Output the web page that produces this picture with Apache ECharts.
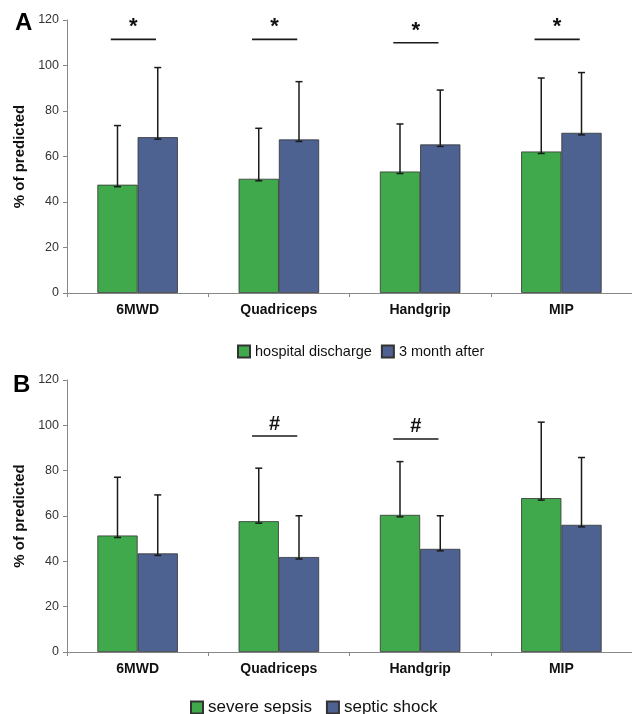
<!DOCTYPE html>
<html>
<head>
<meta charset="utf-8">
<script src="https://cdn.jsdelivr.net/npm/echarts@6/dist/echarts.min.js"></script>
<style>html,body{margin:0;padding:0;background:#fff;}#c{width:632px;height:714px;}</style>
</head>
<body>
<div id="c"></div>
<script>
const categories = ['6MWD', 'Quadriceps', 'Handgrip', 'MIP'];
const yTicks = [0, 20, 40, 60, 80, 100, 120];

// Panel A
const aNames = ['hospital discharge', '3 month after'];
const aDischarge = [47.6, 50.2, 53.4, 62.2];
const aDischargeSD = [73.6, 72.4, 74.3, 94.5];
const a3Month = [68.5, 67.5, 65.3, 70.4];
const a3MonthSD = [99.1, 92.9, 89.2, 96.9];
const aSig = [[0, 111.5, '*'], [1, 111.5, '*'], [2, 110, '*'], [3, 111.5, '*']];

// Panel B
const bNames = ['severe sepsis', 'septic shock'];
const bSevere = [51.4, 57.7, 60.5, 67.9];
const bSevereSD = [77.1, 81.1, 84.0, 101.4];
const bShock = [43.5, 41.9, 45.5, 56.1];
const bShockSD = [69.3, 60.1, 60.1, 85.8];
const bSig = [[1, 95.3, '#'], [2, 94, '#']];

const GREEN = '#3fa94b';
const BLUE = '#4d6290';
const FONT = 'Liberation Sans';
const BARW = 0.285;

function errData(vals, sds) { return vals.map((v, i) => [i, v, sds[i]]); }

function errSeries(name, vals, sds, side, axisIdx) {
  return {
    type: 'custom', name: name + ' SD', xAxisIndex: axisIdx, yAxisIndex: axisIdx,
    silent: true, z: 5,
    data: errData(vals, sds),
    renderItem: function (params, api) {
      const cw = api.size([1, 0])[0];
      const c0 = api.coord([api.value(0), api.value(1)]);
      const c1 = api.coord([api.value(0), api.value(2)]);
      const x = c0[0] + side * cw * BARW / 2;
      const y0 = c0[1] + 2, y1 = c1[1];
      const st = { stroke: '#1a1a1a', lineWidth: 1.5 };
      return { type: 'group', children: [
        { type: 'line', shape: { x1: x, y1: y0, x2: x, y2: y1 }, style: st },
        { type: 'line', shape: { x1: x - 3.5, y1: y1, x2: x + 3.5, y2: y1 }, style: st },
        { type: 'line', shape: { x1: x - 3.5, y1: y0, x2: x + 3.5, y2: y0 }, style: st }
      ]};
    }
  };
}

function sigSeries(data, axisIdx, fontSize, dy) {
  return {
    type: 'custom', xAxisIndex: axisIdx, yAxisIndex: axisIdx, silent: true, z: 6,
    data: data,
    renderItem: function (params, api) {
      const cw = api.size([1, 0])[0];
      const c = api.coord([api.value(0), api.value(1)]);
      const half = cw * 0.16;
      const x = c[0] - cw * 0.03;
      return { type: 'group', children: [
        { type: 'line', shape: { x1: x - half, y1: c[1], x2: x + half, y2: c[1] }, style: { stroke: '#1a1a1a', lineWidth: 1.6 } },
        { type: 'text', style: { text: data[params.dataIndex][2], x: x, y: c[1] - dy, textAlign: 'center', textVerticalAlign: 'middle', font: 'bold ' + fontSize + 'px "' + FONT + '"', fill: '#111' } }
      ]};
    }
  };
}

function barSeries(name, vals, color, axisIdx) {
  return {
    type: 'bar', name: name, xAxisIndex: axisIdx, yAxisIndex: axisIdx,
    data: vals, barWidth: (BARW * 100) + '%', barGap: '0%',
    itemStyle: { color: color, borderColor: '#333', borderWidth: 0.8 },
    silent: true
  };
}

function xAxis(gi) {
  return {
    type: 'category', gridIndex: gi, data: categories,
    axisLine: { lineStyle: { color: '#888', width: 1 } },
    axisTick: { show: true, length: 4, lineStyle: { color: '#888' } },
    axisLabel: { color: '#111', fontFamily: FONT, fontWeight: 'bold', fontSize: 14, margin: 10 }
  };
}
function yAxis(gi) {
  return {
    type: 'value', gridIndex: gi, min: 0, max: 120, interval: 20,
    name: '% of predicted', nameLocation: 'middle', nameRotate: 90, nameGap: 40,
    nameTextStyle: { fontFamily: FONT, fontWeight: 'bold', fontSize: 15, color: '#111' },
    axisLine: { show: true, lineStyle: { color: '#888', width: 1 } },
    axisTick: { show: true, length: 4, lineStyle: { color: '#888' } },
    splitLine: { show: false },
    axisLabel: { color: '#333', fontFamily: FONT, fontSize: 12.5, margin: 8,
      formatter: v => yTicks.includes(v) ? String(v) : '' }
  };
}

const chart = echarts.init(document.getElementById('c'), null, { renderer: 'canvas' });
chart.setOption({
  animation: false,
  backgroundColor: '#fff',
  title: [
    { text: 'A', left: 10, top: 6, textStyle: { fontFamily: FONT, fontWeight: 'bold', fontSize: 24, color: '#000' } },
    { text: 'B', left: 8, top: 368, textStyle: { fontFamily: FONT, fontWeight: 'bold', fontSize: 24, color: '#000' } }
  ],
  grid: [
    { left: 67, top: 20, width: 568, height: 273 },
    { left: 67, top: 380, width: 568, height: 272 }
  ],
  legend: [
    { data: aNames, left: 232, top: 339, icon: 'rect', itemWidth: 12, itemHeight: 12, itemGap: 9,
      textStyle: { fontFamily: FONT, fontSize: 14.5, color: '#111' } },
    { data: bNames, left: 185, top: 694, icon: 'rect', itemWidth: 12, itemHeight: 12, itemGap: 14,
      textStyle: { fontFamily: FONT, fontSize: 17, color: '#111' } }
  ],
  xAxis: [xAxis(0), xAxis(1)],
  yAxis: [yAxis(0), yAxis(1)],
  series: [
    barSeries(aNames[0], aDischarge, GREEN, 0),
    barSeries(aNames[1], a3Month, BLUE, 0),
    errSeries(aNames[0], aDischarge, aDischargeSD, -1, 0),
    errSeries(aNames[1], a3Month, a3MonthSD, 1, 0),
    sigSeries(aSig, 0, 22, 12),
    barSeries(bNames[0], bSevere, GREEN, 1),
    barSeries(bNames[1], bShock, BLUE, 1),
    errSeries(bNames[0], bSevere, bSevereSD, -1, 1),
    errSeries(bNames[1], bShock, bShockSD, 1, 1),
    sigSeries(bSig, 1, 20, 12)
  ]
});
</script>
</body>
</html>
